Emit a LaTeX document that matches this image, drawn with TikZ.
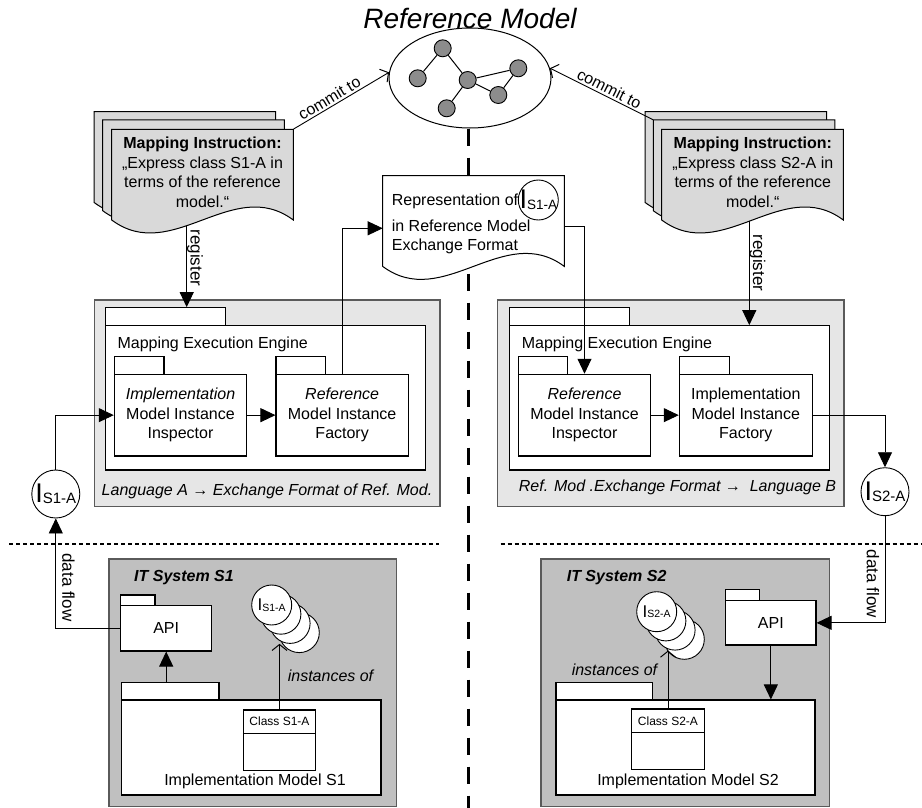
\documentclass[tikz,border=0pt]{standalone}
\usepackage{fontspec}
\setmainfont{Liberation Sans}
\usetikzlibrary{arrows.meta,shapes.geometric,fit,calc}
\definecolor{docgray}{HTML}{D9D9D9}
\definecolor{enggray}{HTML}{E6E6E6}
\definecolor{itgray}{HTML}{C0C0C0}
\definecolor{nodegray}{HTML}{8C8C8C}
\definecolor{framegray}{HTML}{5A5A5A}
\newcommand\fsA{\fontsize{16}{19.5}\selectfont}
\newcommand\Isub[3]{{\fontsize{#1}{#1}\selectfont I}\raisebox{-1pt}{\fontsize{#2}{#2}\selectfont #3}}
\tikzset{
 conn/.style={line width=0.9pt},
 tri/.style={conn,-{Triangle[length=15pt,width=14pt]}},
 barbtip/.tip={Straight Barb[length=6pt,width=15pt,line width=1pt]},
 barb/.style={conn,-barbtip},
 gnode/.style={circle,draw,line width=0.9pt,fill=nodegray,minimum size=17pt,inner sep=0pt},
 inst/.style={circle,draw,line width=0.9pt,fill=white,minimum size=40pt,inner sep=0pt},
 icirc/.style={circle,draw,line width=0.9pt,fill=white,minimum size=48pt,inner sep=0pt},
 pkbox/.style={draw,fill=white,line width=1.1pt,inner sep=0pt},
 framebox/.style={draw=framegray,line width=1.2pt,inner sep=0pt},
}
\newcommand\wavedoc[4]{%
  \pgfmathsetmacro\wdR{#1+181.6}%
  \pgfmathsetmacro\wdB{#2+90.7}%
  \pgfmathsetmacro\wdCa{#1+121.1}%
  \pgfmathsetmacro\wdCb{#1+60.5}%
  \pgfmathsetmacro\wdUp{\wdB-45}%
  \pgfmathsetmacro\wdDn{\wdB+45}%
  \draw[line width=1pt,fill=#4] (#1,#2) -- (\wdR,#2) -- (\wdR,\wdB) .. controls (\wdCa,\wdUp) and (\wdCb,\wdDn) .. (#1,\wdB) -- cycle;
  \node[inner sep=0pt,fit={(#1,#2) (\wdR,\wdB)}] (#3) {};
}
\newcommand\pk[5]{\node[pkbox,fit={(#2,#3) (#4,#5)}] (#1) {};}
\begin{document}
\begin{tikzpicture}[x=1pt,y=-1pt,font=\fsA]
\useasboundingbox (0,0) rectangle (922,808);

% title and reference model
\node[font=\fontsize{28}{30}\selectfont\itshape] (title) at (470,18) {Reference Model};
\node[ellipse,draw,line width=1pt,fill=white,minimum width=162pt,minimum height=100pt,inner sep=0pt] (rm) at (470,78) {};
\node[gnode] (g1) at (442.7,48.3) {};
\node[gnode] (g2) at (417.7,78.3) {};
\node[gnode] (g3) at (467.7,80) {};
\node[gnode] (g4) at (518.3,68.3) {};
\node[gnode] (g5) at (498.3,95) {};
\node[gnode] (g6) at (446.7,108.3) {};
\draw[line width=1pt] (g1)--(g2) (g1)--(g3) (g3)--(g4) (g3)--(g5) (g4)--(g5) (g3)--(g6);

% separators
\coordinate (sepbot) at (468.5,808);
\draw[line width=2.5pt,dash pattern=on 17pt off 12pt] (rm.south -| sepbot) -- (sepbot);
\draw[line width=2pt,dash pattern=on 4pt off 3pt] (9.3,544.3) -- (439.3,544.3);
\draw[line width=2pt,dash pattern=on 4pt off 3pt] (500.7,544.3) -- (922,544.3);

% mapping instruction documents
\wavedoc{94}{111.7}{ldocB}{docgray}
\wavedoc{102.7}{120}{ldocM}{docgray}
\wavedoc{111.7}{129.3}{ldoc}{docgray}
\node[align=center] (ldoctxt) at (202.5,172.5) {\textbf{Mapping Instruction:}\\„Express class S1-A in\\terms of the reference\\model.“};
\wavedoc{645}{111.7}{rdocB}{docgray}
\wavedoc{653.3}{120}{rdocM}{docgray}
\wavedoc{661.7}{129.3}{rdoc}{docgray}
\node[align=center] (rdoctxt) at (752.8,172.5) {\textbf{Mapping Instruction:}\\„Express class S2-A in\\terms of the reference\\model.“};

% commit arrows
\draw[barb] (ldoc.north east) -- (rm.176) node[pos=0.42,sloped,above,inner sep=2pt] {commit to};
\draw[conn,barbtip-] (rm.7) -- (rdocM.north west) node[pos=0.54,sloped,above,inner sep=2pt] {commit to};

% representation document
\wavedoc{382.7}{175.7}{rep}{white}
\coordinate (repin) at (382.7,228.3);
\coordinate (repout) at (564.3,226.7);
\node[anchor=base west] (rept1) at (388.3,205.7) {Representation of};
\node[circle,draw,line width=0.9pt,minimum size=40pt,inner sep=0pt] (repI) at (538.3,200) {};
\node at (repI) {\Isub{27}{13.5}{S1-A}};
\node[anchor=base west] (rept2) at (388.3,231.7) {in Reference Model};
\node[anchor=base west] (rept3) at (388.3,250.7) {Exchange Format};

% left engine
\node[framebox,fill=enggray,fit={(94.3,300) (440,506.7)}] (leng) {};
\pk{lmeetab}{105.7}{307.7}{225.7}{325.7}
\pk{lmee}{105.7}{325.7}{425.7}{470}
\node[anchor=base west] at (114,348.5) {Mapping Execution Engine};
\pk{linsptab}{114.3}{356.7}{164}{374.3}
\pk{linsp}{114.3}{374.3}{246.7}{456}
\node[align=center] at (linsp) {\textit{Implementation}\\Model Instance\\Inspector};
\pk{lfactab}{276}{356.7}{325.3}{374.3}
\pk{lfac}{276}{374.3}{408.3}{456}
\node[align=center] at (lfac) {\textit{Reference}\\Model Instance\\Factory};
\node[font=\fsA\itshape] (lcap) at (267,491) {Language A → Exchange Format of Ref. Mod.};

% right engine
\node[framebox,fill=enggray,fit={(497.7,300) (844,506.7)}] (reng) {};
\pk{rmeetab}{509.3}{307.7}{629.3}{325.7}
\pk{rmee}{509.3}{325.7}{829.3}{470}
\node[anchor=base west] at (518.3,348.5) {Mapping Execution Engine};
\pk{rinsptab}{518.3}{356.7}{567.7}{374.3}
\pk{rinsp}{518.3}{374.3}{650.7}{456}
\node[align=center] at (rinsp) {\textit{Reference}\\Model Instance\\Inspector};
\pk{rfactab}{679.3}{356.7}{729.3}{374.3}
\pk{rfac}{679.3}{374.3}{812.3}{456}
\node[align=center] at (rfac) {Implementation\\Model Instance\\Factory};
\node[font=\fsA\itshape] (rcap) at (677.5,487) {Ref. Mod .Exchange Format →\ \ Language B};

% register arrows
\coordinate (lregs) at (186.7,225.7);
\coordinate (rregs) at (749.3,221.2);
\draw[tri] (lregs) -- (lregs |- lmeetab.north);
\draw[tri] (rregs) -- (rregs |- rmee.north);
\node[rotate=-90,font=\fontsize{17}{19}\selectfont] at (195,258) {register};
\node[rotate=-90,font=\fontsize{17}{19}\selectfont] at (757.5,263) {register};

% instance circles
\node[icirc] (lI) at (55.8,494) {};
\node at (lI) {\Isub{27}{15}{S1-A}};
\node[icirc] (rI) at (885,491.7) {};
\node at (rI) {\Isub{27}{15}{S2-A}};

% IT system S1
\node[framebox,fill=itgray,fit={(109,559) (396.7,806.7)}] (lits) {};
\node[anchor=west,font=\fsA\bfseries\itshape] at (130.7,577.7) {IT System S1};
\pk{lapitab}{120.7}{595}{155}{605.7}
\pk{lapi}{120.7}{605.7}{211.7}{651}
\node at (lapi) {API};
\pk{limpltab}{121.7}{682.3}{219}{700}
\pk{limpl}{121.7}{700}{381}{795}
\node at (255,781.7) {Implementation Model S1};
\pk{lclass}{243.3}{710}{315.7}{770.7}
\draw[line width=1.1pt] (lclass.west |- 0,733.3) -- (lclass.east |- 0,733.3);
\node[font=\fontsize{12}{14}\selectfont] at (279.5,721.7) {Class S1-A};
\node[inst] (ls4) at (299.3,632.6) {};
\node[inst] (ls3) at (290.1,623.4) {};
\node[inst] (ls2) at (280.9,614.2) {};
\node[inst] (ls1) at (271.7,605) {};
\node at (ls1) {\Isub{17}{10.5}{S1-A}};

% IT system S2
\node[framebox,fill=itgray,fit={(541,559) (829.3,806.7)}] (rits) {};
\node[anchor=west,font=\fsA\bfseries\itshape] at (563.3,577.7) {IT System S2};
\pk{rapitab}{725.7}{589.3}{759.3}{600.7}
\pk{rapi}{725.7}{600.7}{816}{645}
\node at (rapi) {API};
\pk{rimpltab}{556}{682.3}{652.7}{700}
\pk{rimpl}{556}{700}{815}{795}
\node at (688,781.7) {Implementation Model S2};
\pk{rclass}{631.7}{709}{704.3}{769.3}
\draw[line width=1.1pt] (rclass.west |- 0,732.7) -- (rclass.east |- 0,732.7);
\node[font=\fontsize{12}{14}\selectfont] at (668,721) {Class S2-A};
\node[inst] (rs4) at (684.3,639.3) {};
\node[inst] (rs3) at (675.1,630.1) {};
\node[inst] (rs2) at (665.9,620.9) {};
\node[inst] (rs1) at (656.7,611.7) {};
\node at (rs1) {\Isub{17}{10.5}{S2-A}};

% connectors
\draw[tri] (lI.north) |- (linsp.west);
\draw[tri] (linsp.east) -- (lfac.west);
\draw[tri] (lfac.north) |- (repin);
\draw[tri] (repout) -| (rinsp.north);
\draw[tri] (rinsp.east) -- (rfac.west);
\draw[tri] (rfac.east) -| (rI.north);
\draw[tri] (rI.south) |- (rapi.east);
\draw[tri] (rapi.south) -- (rapi.south |- rimpl.north);
\draw[tri] (lapi.west) -| (lI.south);
\draw[tri] (lapi.south |- limpltab.north) -- (lapi.south);
\draw[barb] (lclass.north) -- (lclass.north |- ls3.south);
\draw[barb] (rclass.north) -- (rclass.north |- rs3.south);

% connector labels
\node[rotate=-90,font=\fontsize{17}{19}\selectfont] at (68.5,587.5) {data flow};
\node[rotate=-90,font=\fontsize{17}{19}\selectfont] at (873,584) {data flow};
\node[anchor=west,font=\fsA\itshape] at (284.3,675.7) {instances of};
\node[anchor=east,font=\fsA\itshape] at (660.7,670) {instances of};
\end{tikzpicture}
\end{document}
